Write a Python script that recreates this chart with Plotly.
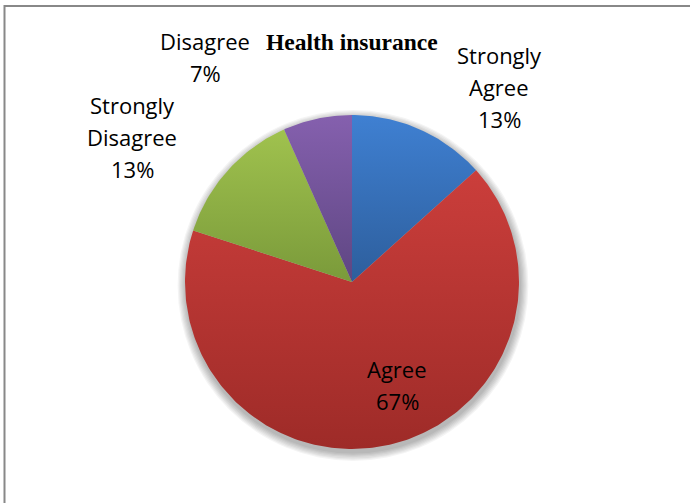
import math
import plotly.graph_objects as go

# Survey responses on health insurance
categories = ["Strongly Agree", "Agree", "Strongly Disagree", "Disagree"]
counts = [2, 10, 2, 1]

# Slice colours: (bottom, top) of each vertical gradient
slice_colors = [
    ("#2D5E9C", "#3F80D2"),
    ("#9E2B28", "#CB3E3B"),
    ("#7A9A3A", "#A0C24E"),
    ("#5E4682", "#8560AE"),
]

W, H = 690, 503
CX, CY, R = 352, 282, 167  # pie centre and radius in pixels

# label placement: centre of first text line (pixels) and line spacing
label_pos = {
    "Strongly Agree": (499, 55),
    "Agree": (397, 369),
    "Strongly Disagree": (132, 105),
    "Disagree": (205, 41),
}
LINE_STEP = 32


def px_to_data(px, py):
    return (px - CX) / R, (H - py - (H - CY)) / R


fig = go.Figure()

# soft drop shadow beneath the pie
for k in range(7):
    rr = 1 + (k + 1) * 1.2 / R
    off = -3.5 / R
    fig.add_shape(
        type="circle", xref="x", yref="y", layer="below",
        x0=-rr + 1.0 / R, x1=rr + 1.0 / R, y0=-rr + off, y1=rr + off,
        fillcolor="rgba(0,0,0,0.045)", line_width=0,
    )

total = sum(counts)
start = 0.0
for name, val, (c_lo, c_hi) in zip(categories, counts, slice_colors):
    sweep = val / total * 2 * math.pi
    n = max(8, int(sweep / (2 * math.pi) * 360))
    xs, ys = [0.0], [0.0]
    for i in range(n + 1):
        a = start + sweep * i / n
        xs.append(math.sin(a))
        ys.append(math.cos(a))
    xs.append(0.0)
    ys.append(0.0)
    fig.add_trace(go.Scatter(
        x=xs, y=ys, mode="lines", fill="toself",
        line=dict(width=0, color=c_hi),
        fillgradient=dict(type="vertical", colorscale=[[0, c_lo], [1, c_hi]]),
        name=name, hoverinfo="name", showlegend=False,
    ))
    start += sweep

# category labels with percentages
for name, val in zip(categories, counts):
    pct = round(val / total * 100)
    lines = name.split(" ") + [f"{pct}%"]
    px, py = label_pos[name]
    for j, line in enumerate(lines):
        x, y = px_to_data(px, py + j * LINE_STEP)
        fig.add_annotation(
            x=x, y=y, xref="x", yref="y", text=line, showarrow=False,
            font=dict(family="Open Sans", size=22, color="#000000"),
            xanchor="center", yanchor="middle",
        )

# chart title
tx, ty = px_to_data(352, 42)
fig.add_annotation(
    x=tx, y=ty, xref="x", yref="y", text="<b>Health insurance</b>",
    showarrow=False, xanchor="center", yanchor="middle",
    font=dict(family="Liberation Serif", size=23.5, color="#000000"),
)

# frame lines (top and left)
fig.add_shape(type="line", xref="paper", yref="paper",
              x0=4 / W, x1=1, y0=1 - 6 / H, y1=1 - 6 / H,
              line=dict(color="#888888", width=2))
fig.add_shape(type="line", xref="paper", yref="paper",
              x0=4.5 / W, x1=4.5 / W, y0=0, y1=1 - 5 / H,
              line=dict(color="#888888", width=2))

fig.update_xaxes(range=[-CX / R, (W - CX) / R], visible=False, fixedrange=True)
fig.update_yaxes(range=[-(H - CY) / R, CY / R], visible=False, fixedrange=True)
fig.update_layout(
    width=W, height=H, margin=dict(l=0, r=0, t=0, b=0),
    paper_bgcolor="white", plot_bgcolor="white",
)

fig.write_html("out.html")
